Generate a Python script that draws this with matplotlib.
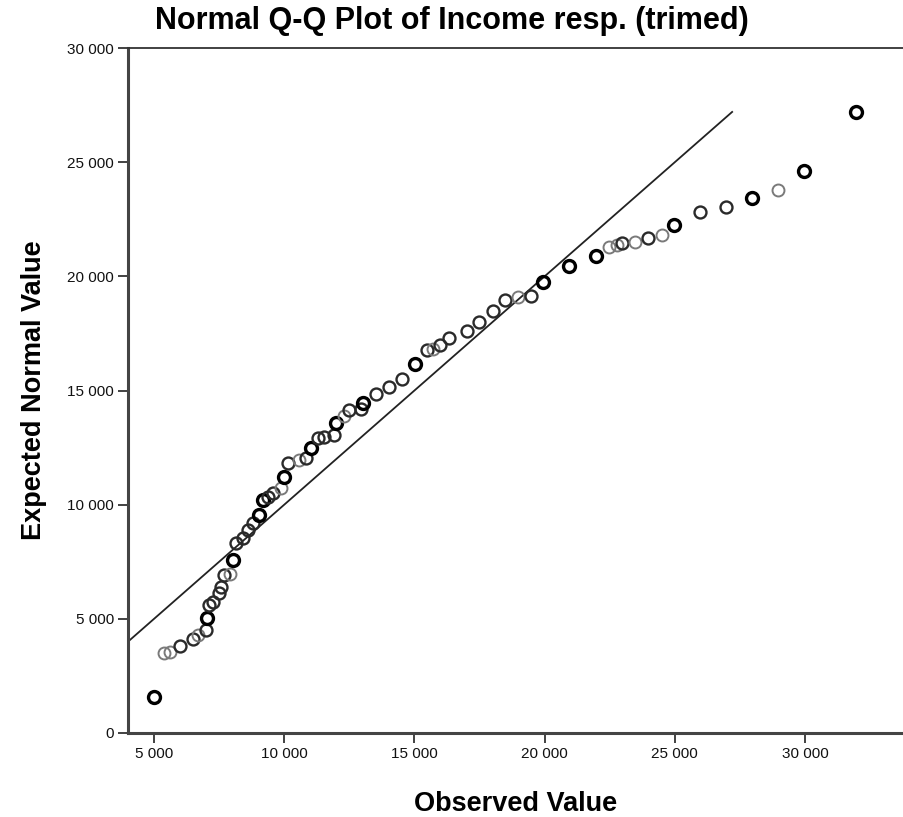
import matplotlib
matplotlib.use("Agg")
import matplotlib.pyplot as plt
import numpy as np

plt.rcParams['font.family'] = ['Liberation Sans', 'DejaVu Sans']

# observed incomes and their expected normal quantiles
observed = [5000, 5400, 5600, 6000, 6500, 6700, 7000, 7050, 7100, 7250, 7500,
            7570, 7680, 7900, 8030, 8140, 8400, 8600, 8800, 9030, 9180, 9370,
            9560, 9870, 9980, 10140, 10560, 10830, 11020, 11290, 11520, 11900,
            11980, 12280, 12480, 12940, 13010, 13510, 14010, 14510, 15010,
            15500, 15700, 16000, 16310, 17000, 17460, 18000, 18460, 18960,
            19490, 19950, 20950, 21990, 22480, 22790, 22980, 23480, 23980,
            24510, 24980, 25970, 26970, 27970, 28960, 29960, 31950]
expected = [1580, 3500, 3550, 3810, 4120, 4290, 4510, 5040, 5610, 5740, 6130,
            6390, 6920, 6960, 7580, 8320, 8540, 8890, 9200, 9550, 10200, 10340,
            10510, 10730, 11210, 11830, 11950, 12050, 12480, 12920, 12960, 13050,
            13580, 13900, 14150, 14200, 14450, 14850, 15150, 15510, 16160,
            16780, 16820, 17000, 17300, 17610, 18000, 18480, 18970, 19100,
            19140, 19750, 20450, 20900, 21290, 21370, 21460, 21510, 21680,
            21810, 22250, 22820, 23040, 23430, 23780, 24620, 27200]
# how many cases share each point (darker rings for tied values)
ties = [3, 1, 1, 2, 2, 1, 2, 3, 2, 2, 2,
        2, 2, 1, 3, 2, 2, 2, 2, 3, 3, 2,
        2, 1, 3, 2, 1, 2, 3, 2, 2, 2,
        3, 1, 2, 2, 3, 2, 2, 2, 3,
        2, 1, 2, 2, 2, 2, 2, 2, 1,
        2, 3, 3, 3, 1, 1, 2, 1, 2,
        1, 3, 2, 2, 3, 1, 3, 3]

xticks = [5000, 10000, 15000, 20000, 25000, 30000]
yticks = [0, 5000, 10000, 15000, 20000, 25000, 30000]


def fmt(v):
    return f"{v:,}".replace(",", " ")


fig = plt.figure(figsize=(9.04, 8.17), dpi=100)
ax = fig.add_axes([128 / 904, 1 - 733 / 817, 1 - 128 / 904, (733 - 48) / 817])

ax.set_xlim(4000, 33800)
ax.set_ylim(0, 30000)

# reference line y = x up to the largest expected value
x0 = ax.get_xlim()[0]
x1 = max(expected)
ax.plot([x0, x1], [x0, x1], color='#222222', lw=1.3, zorder=2)

shade = {1: ('#7a7a7a', 1.4), 2: ('#2a2a2a', 1.7), 3: ('#000000', 2.4)}
for x, y, n in zip(observed, expected, ties):
    col, lw = shade[n]
    ax.plot(x, y, 'o', ms=8.6, mfc='none', mec=col, mew=lw, zorder=3)

ax.set_xticks(xticks)
ax.set_xticklabels([fmt(v) for v in xticks])
ax.set_yticks(yticks)
ax.set_yticklabels([fmt(v) for v in yticks])
ax.tick_params(axis='both', direction='out', length=7, width=1.3,
               color='#333333', labelsize=11, labelcolor='#111111', pad=3)

for side in ['left', 'bottom']:
    ax.spines[side].set_linewidth(2.2)
    ax.spines[side].set_color('#444444')
ax.spines['top'].set_linewidth(1.3)
ax.spines['top'].set_color('#333333')
ax.spines['right'].set_visible(False)

ax.set_xlabel("Observed Value", fontsize=19.5, fontweight='bold', labelpad=22)
ax.set_ylabel("Expected Normal Value", fontsize=19.5, fontweight='bold', labelpad=15)
fig.text(0.5, 1 - 21 / 817, "Normal Q-Q Plot of Income resp. (trimed)",
         ha='center', va='center', fontsize=22, fontweight='bold')

fig.savefig("out.png", dpi=100)
